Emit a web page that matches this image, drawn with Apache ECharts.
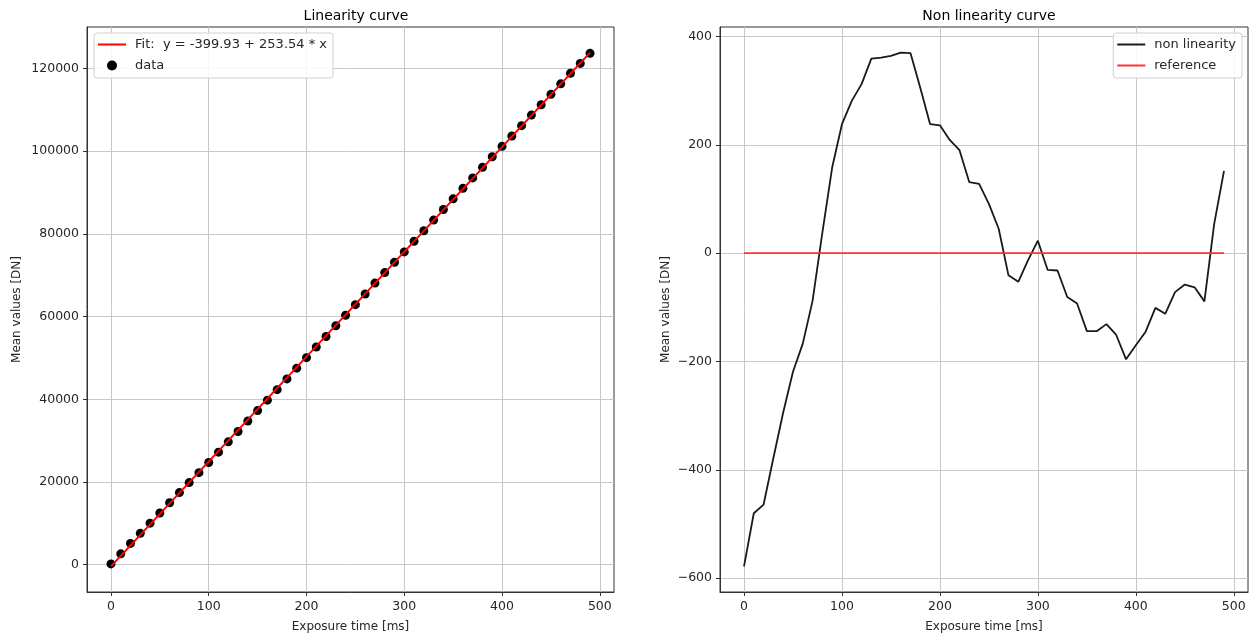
<!DOCTYPE html>
<html>
<head>
<meta charset="utf-8">
<title>Linearity</title>
<script src="https://cdn.jsdelivr.net/npm/echarts@6/dist/echarts.min.js"></script>
<style>
  html, body { margin: 0; padding: 0; background: #fff; }
  #chart { width: 1259px; height: 639px; }
</style>
</head>
<body>
<div id="chart"></div>
<script>
// Exposure times [ms]
const exposureTimes = [0, 10, 20, 30, 40, 50, 60, 70, 80, 90,
  100, 110, 120, 130, 140, 150, 160, 170, 180, 190,
  200, 210, 220, 230, 240, 250, 260, 270, 280, 290,
  300, 310, 320, 330, 340, 350, 360, 370, 380, 390,
  400, 410, 420, 430, 440, 450, 460, 470, 480, 490];

// Measured mean signal [DN]
const meanValues = [178, 2615, 5135, 7584, 10036, 12496, 14979, 17436, 19845, 22261,
  24716, 27208, 29713, 32201, 34735, 37267, 39796, 42333, 44932, 47535,
  50072, 52634, 55189, 57783, 60322, 62894, 65475, 68097, 70644, 73140,
  75639, 78228, 80765, 83349, 85897, 88483, 91018, 93541, 96096, 98677,
  101186, 103696, 106188, 108734, 111230, 113751, 116291, 118853, 121245, 123683];

// Deviation from the linear fit [DN]
const nonLinearity = [-578, -480, -464, -378, -294, -219, -167, -88, 38, 158,
  238, 281, 312, 359, 361, 364, 370, 369, 305, 238,
  236, 209, 190, 131, 128, 91, 45, -41, -53, -13,
  23, -31, -32, -81, -93, -144, -144, -131, -151, -196,
  -170, -145, -101, -112, -72, -58, -63, -89, 54, 152];

// Linear fit coefficients
const fitIntercept = -399.93;
const fitSlope = 253.54;

// Tick positions
const timeTicks = [0, 100, 200, 300, 400, 500];
const meanTicks = [0, 20000, 40000, 60000, 80000, 100000, 120000];
const nonLinTicks = [-600, -400, -200, 0, 200, 400];

const fitLabel = 'Fit:  y = ' + fitIntercept.toFixed(2) + ' + ' + fitSlope.toFixed(2) + ' * x';

const xFirst = exposureTimes[0];
const xLast = exposureTimes[exposureTimes.length - 1];
const fitLine = [
  [xFirst, fitIntercept + fitSlope * xFirst],
  [xLast, fitIntercept + fitSlope * xLast]
];
const referenceLine = [[xFirst, 0], [xLast, 0]];

// axis ranges padded by 5 % of the data span
function padded(lo, hi) {
  const m = (hi - lo) * 0.05;
  return [lo - m, hi + m];
}
const xRange = padded(xFirst, xLast);
const yLeftRange = padded(Math.min(fitLine[0][1], ...meanValues), Math.max(fitLine[1][1], ...meanValues));
const yRightRange = padded(Math.min(...nonLinearity), Math.max(...nonLinearity));

const FONT = 'DejaVu Sans';
const TXT = '#262626';
const GRIDC = '#c8c8c8';
const LINE_ICON = 'path://M0,0 H28 V2 H0 Z';

function valueAxis(range, ticks, extra) {
  return Object.assign({
    type: 'value',
    min: range[0],
    max: range[1],
    axisLine: { show: true, onZero: false, lineStyle: { color: '#333', width: 1 } },
    axisTick: { show: true, inside: false, length: 4, lineStyle: { color: '#333' }, customValues: ticks },
    axisLabel: {
      color: TXT, fontFamily: FONT, fontSize: 12.5, margin: 8,
      customValues: ticks,
      formatter: v => String(Math.round(v)).replace('-', '\u2212')
    },
    splitLine: { show: true, lineStyle: { color: GRIDC, width: 1 } },
    nameTextStyle: { color: TXT, fontFamily: FONT, fontSize: 12 }
  }, extra);
}

const legendBase = {
  orient: 'vertical', top: 33, padding: [5, 6, 6, 4], itemGap: 8,
  itemWidth: 28, itemHeight: 10,
  backgroundColor: 'rgba(255,255,255,0.85)', borderColor: '#d0d0d0', borderWidth: 1, borderRadius: 3,
  textStyle: { fontFamily: FONT, fontSize: 13, color: TXT, padding: [0, 0, 0, 4] }
};

const chart = echarts.init(document.getElementById('chart'), null, { renderer: 'canvas' });

chart.setOption({
  backgroundColor: '#fff',
  animation: false,
  title: [
    { text: 'Linearity curve', left: 351, top: 4, textAlign: 'center',
      textStyle: { fontFamily: FONT, fontSize: 14, fontWeight: 'normal', color: '#000' } },
    { text: 'Non linearity curve', left: 984, top: 4, textAlign: 'center',
      textStyle: { fontFamily: FONT, fontSize: 14, fontWeight: 'normal', color: '#000' } }
  ],
  grid: [
    { left: 87, right: 645, top: 27, bottom: 47, show: true, borderColor: '#333', borderWidth: 1, backgroundColor: 'transparent' },
    { left: 720, right: 11, top: 27, bottom: 47, show: true, borderColor: '#333', borderWidth: 1, backgroundColor: 'transparent' }
  ],
  xAxis: [
    valueAxis(xRange, timeTicks, { gridIndex: 0, name: 'Exposure time [ms]', nameLocation: 'middle', nameGap: 29 }),
    valueAxis(xRange, timeTicks, { gridIndex: 1, name: 'Exposure time [ms]', nameLocation: 'middle', nameGap: 29 })
  ],
  yAxis: [
    valueAxis(yLeftRange, meanTicks, { gridIndex: 0, name: 'Mean values [DN]', nameLocation: 'middle', nameGap: 64 }),
    valueAxis(yRightRange, nonLinTicks, { gridIndex: 1, name: 'Mean values [DN]', nameLocation: 'middle', nameGap: 48 })
  ],
  legend: [
    Object.assign({}, legendBase, {
      left: 94,
      data: [
        { name: fitLabel, icon: LINE_ICON },
        { name: 'data', icon: 'circle' }
      ]
    }),
    Object.assign({}, legendBase, {
      right: 17,
      data: [
        { name: 'non linearity', icon: LINE_ICON },
        { name: 'reference', icon: LINE_ICON }
      ]
    })
  ],
  series: [
    {
      name: 'data', type: 'scatter', xAxisIndex: 0, yAxisIndex: 0,
      symbol: 'circle', symbolSize: 9,
      itemStyle: { color: '#000', opacity: 1 },
      data: exposureTimes.map((t, i) => [t, meanValues[i]]),
      z: 2
    },
    {
      name: fitLabel, type: 'line', xAxisIndex: 0, yAxisIndex: 0,
      symbol: 'none', lineStyle: { color: '#ff0000', width: 2 }, itemStyle: { color: '#ff0000' },
      data: fitLine, z: 3
    },
    {
      name: 'non linearity', type: 'line', xAxisIndex: 1, yAxisIndex: 1,
      symbol: 'none', lineStyle: { color: '#1a1a1a', width: 1.8 }, itemStyle: { color: '#1a1a1a' },
      data: exposureTimes.map((t, i) => [t, nonLinearity[i]]), z: 2
    },
    {
      name: 'reference', type: 'line', xAxisIndex: 1, yAxisIndex: 1,
      symbol: 'none', lineStyle: { color: '#ff3333', width: 1.8 }, itemStyle: { color: '#ff3333' },
      data: referenceLine, z: 3
    }
  ]
});
</script>
</body>
</html>
